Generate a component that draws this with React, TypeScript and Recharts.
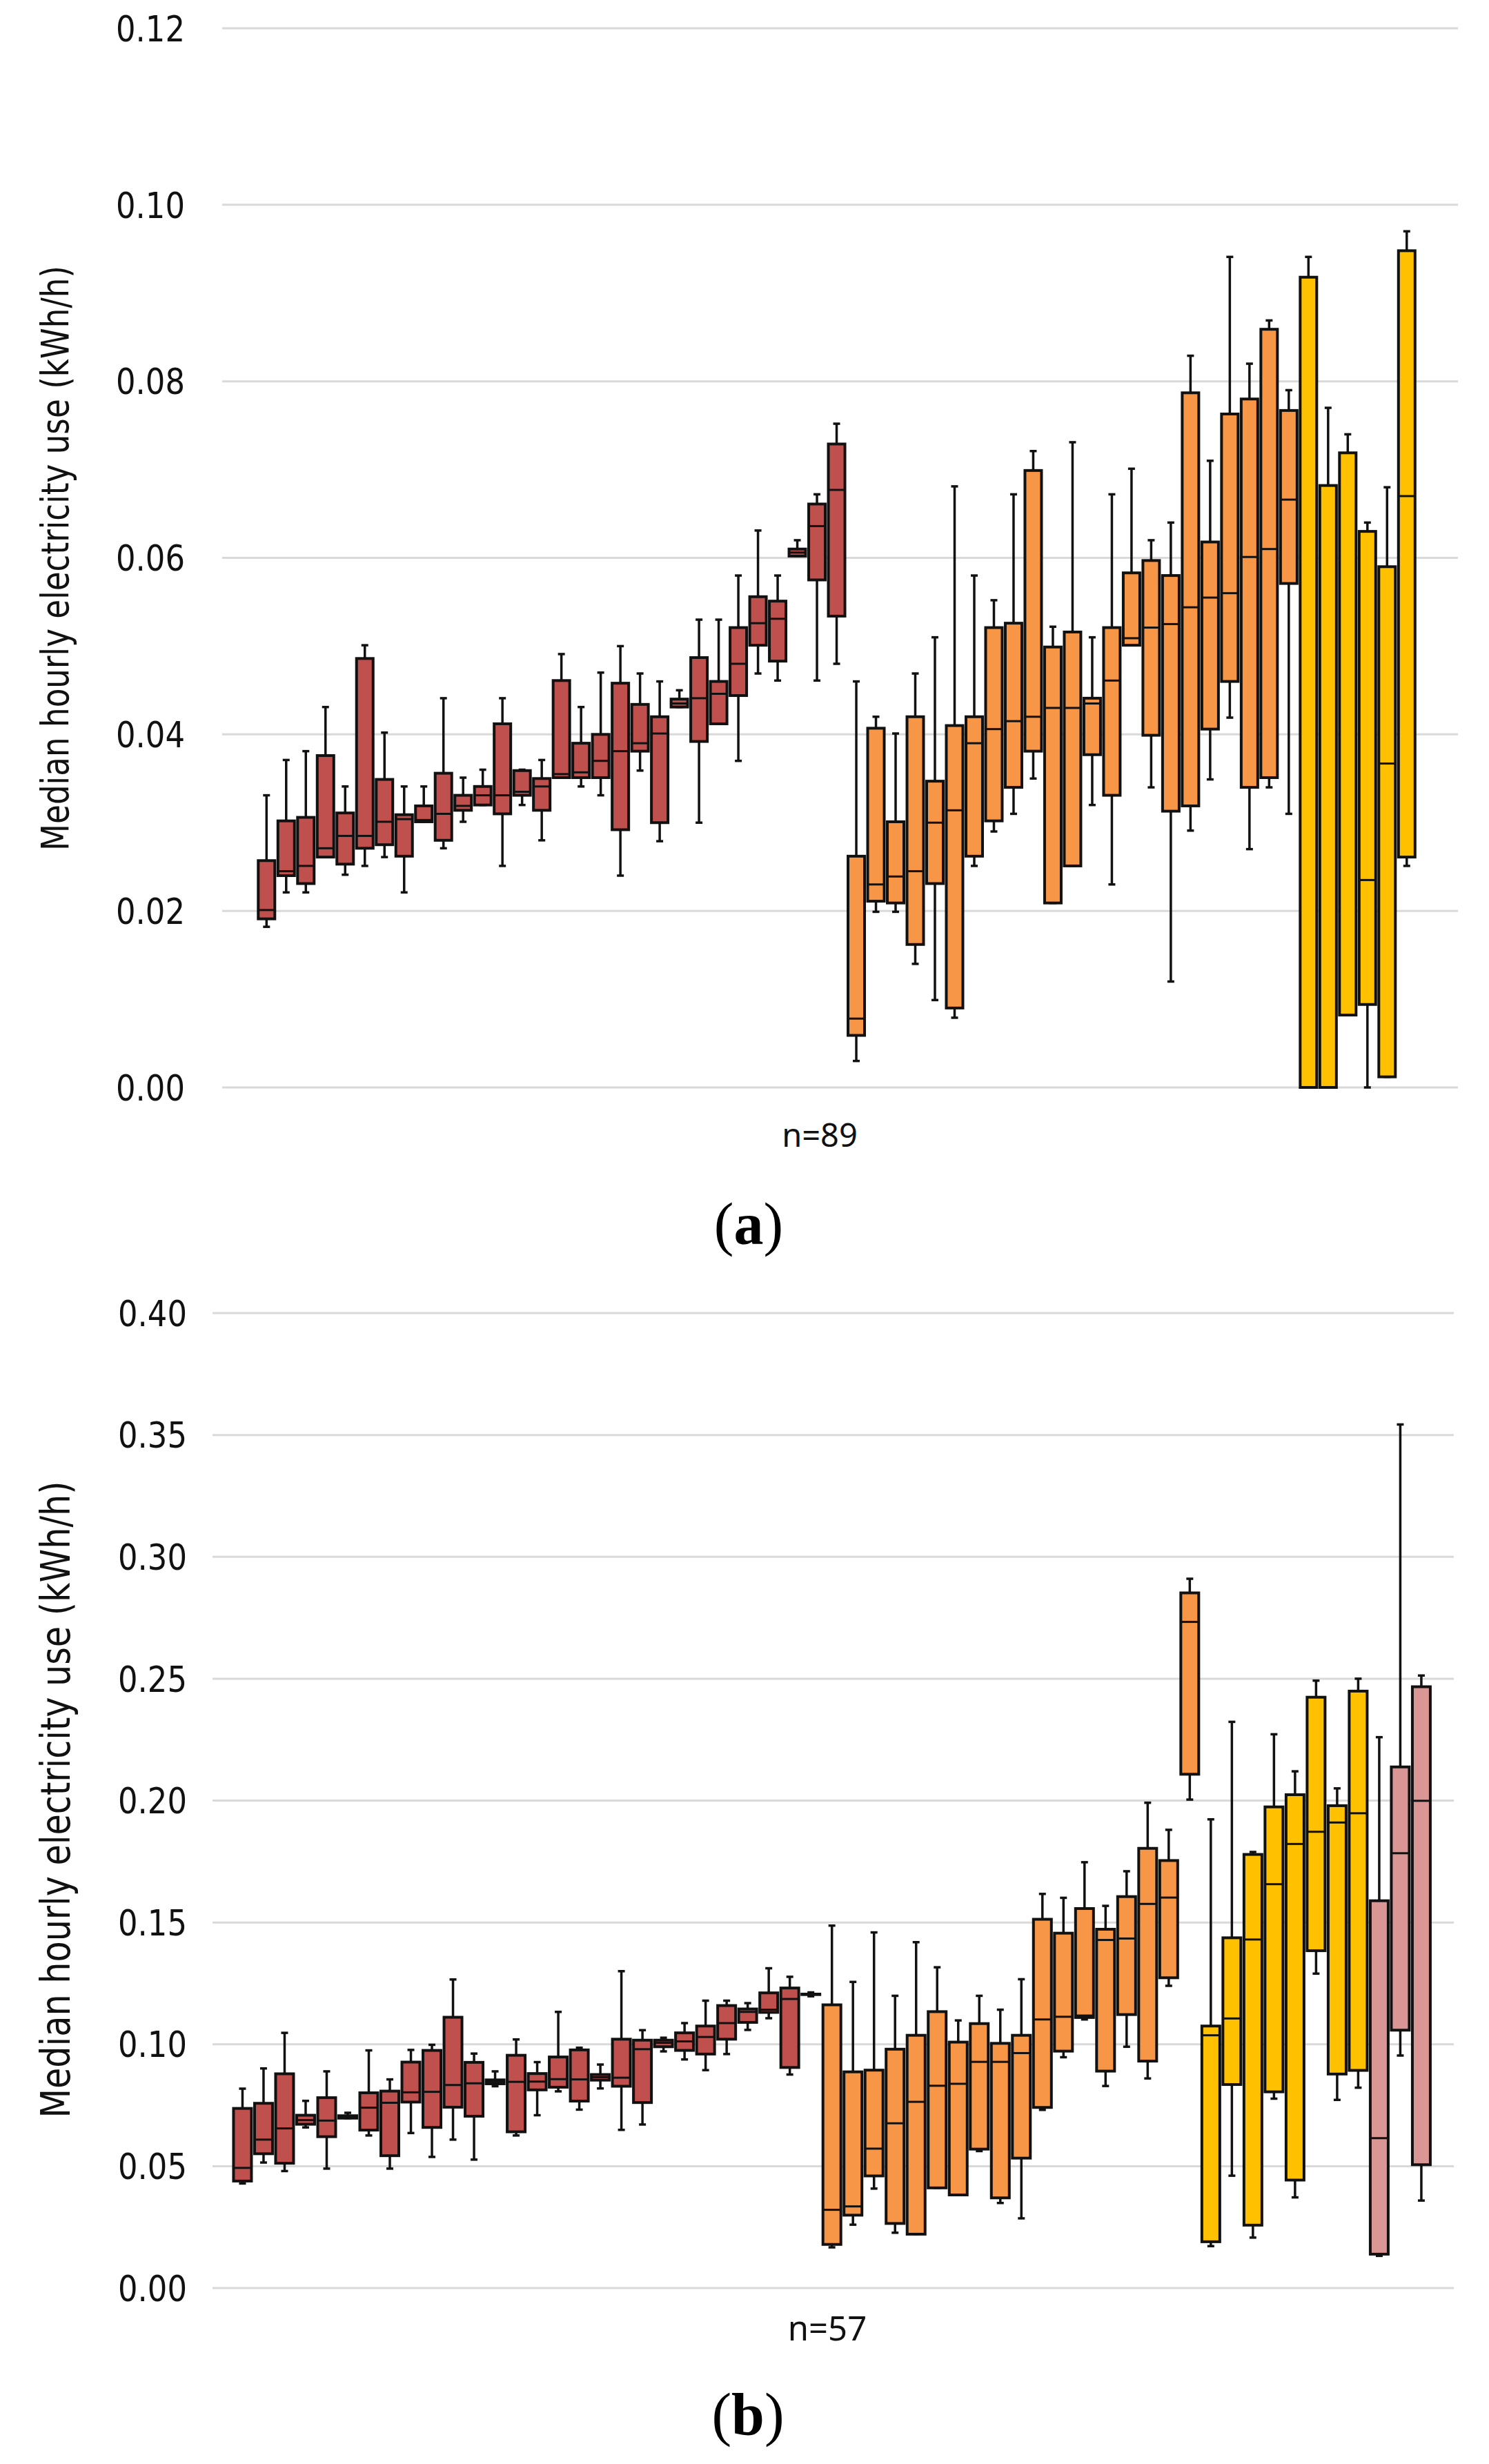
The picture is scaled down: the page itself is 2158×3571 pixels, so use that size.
import React from 'react';
import { BarChart, Bar, XAxis, YAxis, CartesianGrid } from 'recharts';

const GROUP_COLORS: Record<string, string> = {
  red: '#C0504D',
  orange: '#F79646',
  yellow: '#FFC000',
  pink: '#D99694',
};

// Panel (a), n=89 — whisker top, upper quartile, median, lower quartile, whisker bottom
const aMax = [0.0331, 0.0371, 0.0381, 0.0431, 0.0341, 0.0501, 0.0402, 0.0341, 0.0341, 0.0441,
  0.0351, 0.0360, 0.0441, 0.0360, 0.0371, 0.0491, 0.0431, 0.0470, 0.0500, 0.0469,
  0.0460, 0.0450, 0.0530, 0.0530, 0.0580, 0.0631, 0.0580, 0.0620, 0.0672, 0.0752,
  0.0460, 0.0420, 0.0401, 0.0469, 0.0510, 0.0681, 0.0580, 0.0552, 0.0672, 0.0721,
  0.0522, 0.0731, 0.0510, 0.0672, 0.0701, 0.0620, 0.0640, 0.0829, 0.0710, 0.0941,
  0.0820, 0.0869, 0.0790, 0.0941, 0.0770, 0.0740, 0.0640, 0.0680, 0.0970];
const aQ3 = [0.0257, 0.0302, 0.0306, 0.0376, 0.0311, 0.0486, 0.0349, 0.0309, 0.0319, 0.0356,
  0.0331, 0.0341, 0.0412, 0.0359, 0.0350, 0.0461, 0.0390, 0.0400, 0.0458, 0.0434,
  0.0420, 0.0440, 0.0487, 0.0460, 0.0521, 0.0556, 0.0551, 0.0610, 0.0661, 0.0729,
  0.0262, 0.0407, 0.0301, 0.0420, 0.0347, 0.0410, 0.0420, 0.0521, 0.0526, 0.0699,
  0.0499, 0.0516, 0.0441, 0.0521, 0.0583, 0.0597, 0.0580, 0.0787, 0.0618, 0.0763,
  0.0780, 0.0859, 0.0767, 0.0918, 0.0682, 0.0719, 0.0630, 0.0590, 0.0948];
const aMed = [0.0201, 0.0245, 0.0251, 0.0271, 0.0285, 0.0285, 0.0301, 0.0304, 0.0303, 0.0310,
  0.0319, 0.0331, 0.0331, 0.0335, 0.0341, 0.0355, 0.0357, 0.0370, 0.0381, 0.0390,
  0.0401, 0.0435, 0.0441, 0.0446, 0.0480, 0.0526, 0.0531, 0.0606, 0.0636, 0.0677,
  0.0078, 0.0230, 0.0239, 0.0245, 0.0300, 0.0314, 0.0390, 0.0406, 0.0415, 0.0420,
  0.0430, 0.0430, 0.0435, 0.0461, 0.0509, 0.0521, 0.0525, 0.0544, 0.0555, 0.0560,
  0.0601, 0.0610, 0.0666, 0.0000, 0.0000, 0.0082, 0.0235, 0.0367, 0.0670];
const aQ1 = [0.0191, 0.0240, 0.0231, 0.0261, 0.0253, 0.0271, 0.0275, 0.0262, 0.0301, 0.0280,
  0.0314, 0.0320, 0.0310, 0.0331, 0.0314, 0.0351, 0.0351, 0.0351, 0.0292, 0.0381,
  0.0300, 0.0431, 0.0392, 0.0412, 0.0444, 0.0501, 0.0483, 0.0602, 0.0575, 0.0534,
  0.0059, 0.0211, 0.0209, 0.0162, 0.0231, 0.0090, 0.0262, 0.0302, 0.0340, 0.0381,
  0.0209, 0.0251, 0.0377, 0.0331, 0.0501, 0.0399, 0.0313, 0.0319, 0.0406, 0.0460,
  0.0340, 0.0351, 0.0571, 0.0000, 0.0000, 0.0082, 0.0094, 0.0012, 0.0261];
const aMin = [0.0182, 0.0221, 0.0221, 0.0261, 0.0241, 0.0251, 0.0261, 0.0221, 0.0301, 0.0271,
  0.0301, 0.0320, 0.0251, 0.0320, 0.0280, 0.0351, 0.0341, 0.0331, 0.0240, 0.0359,
  0.0279, 0.0431, 0.0300, 0.0412, 0.0370, 0.0469, 0.0461, 0.0602, 0.0461, 0.0480,
  0.0030, 0.0199, 0.0199, 0.0140, 0.0099, 0.0079, 0.0251, 0.0290, 0.0310, 0.0350,
  0.0209, 0.0251, 0.0320, 0.0230, 0.0501, 0.0340, 0.0120, 0.0291, 0.0349, 0.0419,
  0.0270, 0.0340, 0.0310, 0.0000, 0.0000, 0.0082, 0.0000, 0.0012, 0.0251];
const aGroups: [string, number][] = [['red', 30], ['orange', 23], ['yellow', 6]];
const aTicks = [0, 0.02, 0.04, 0.06, 0.08, 0.1, 0.12];

// Panel (b), n=57
const bMax = [0.0818, 0.0901, 0.1047, 0.0768, 0.0889, 0.0719, 0.0975, 0.0856, 0.0977, 0.0998,
  0.1266, 0.0962, 0.0889, 0.1020, 0.0927, 0.1133, 0.0986, 0.0917, 0.1300, 0.1058,
  0.1027, 0.1087, 0.1179, 0.1179, 0.1169, 0.1312, 0.1277, 0.1213,
  0.1487, 0.1256, 0.1459, 0.1199, 0.1419, 0.1316, 0.1098, 0.1199, 0.1142, 0.1267,
  0.1617, 0.1601, 0.1747, 0.1568, 0.1710, 0.1991, 0.1880, 0.2910,
  0.1923, 0.2323, 0.1789, 0.2272, 0.2120, 0.2492, 0.2050, 0.2500,
  0.2260, 0.3543, 0.2513];
const bQ3 = [0.0737, 0.0758, 0.0879, 0.0709, 0.0781, 0.0707, 0.0801, 0.0808, 0.0927, 0.0975,
  0.1111, 0.0926, 0.0854, 0.0955, 0.0880, 0.0948, 0.0977, 0.0876, 0.1021, 0.1017,
  0.1017, 0.1047, 0.1075, 0.1159, 0.1145, 0.1211, 0.1231, 0.1206,
  0.1162, 0.0887, 0.0894, 0.0980, 0.1037, 0.1134, 0.1009, 0.1085, 0.1004, 0.1037,
  0.1513, 0.1456, 0.1557, 0.1472, 0.1606, 0.1804, 0.1754, 0.2852,
  0.1075, 0.1437, 0.1779, 0.1974, 0.2024, 0.2424, 0.1979, 0.2449,
  0.1589, 0.2138, 0.2467];
const bMed = [0.0493, 0.0609, 0.0655, 0.0689, 0.0687, 0.0703, 0.0740, 0.0760, 0.0803, 0.0805,
  0.0833, 0.0840, 0.0848, 0.0846, 0.0847, 0.0857, 0.0856, 0.0865, 0.0863, 0.0980,
  0.1006, 0.1012, 0.1030, 0.1087, 0.1133, 0.1142, 0.1186, 0.1205,
  0.0321, 0.0335, 0.0572, 0.0676, 0.0764, 0.0830, 0.0838, 0.0928, 0.0928, 0.0964,
  0.1102, 0.1113, 0.1118, 0.1428, 0.1434, 0.1576, 0.1602, 0.2733,
  0.1037, 0.1106, 0.1430, 0.1657, 0.1822, 0.1872, 0.1910, 0.1948,
  0.0615, 0.1784, 0.1999];
const bQ1 = [0.0439, 0.0551, 0.0512, 0.0672, 0.0621, 0.0697, 0.0648, 0.0543, 0.0763, 0.0659,
  0.0742, 0.0705, 0.0838, 0.0641, 0.0813, 0.0824, 0.0767, 0.0853, 0.0828, 0.0761,
  0.0990, 0.0975, 0.0960, 0.1021, 0.1090, 0.1131, 0.0905, 0.1204,
  0.0179, 0.0299, 0.0460, 0.0265, 0.0221, 0.0411, 0.0382, 0.0570, 0.0370, 0.0533,
  0.0741, 0.0972, 0.1110, 0.0890, 0.1122, 0.0931, 0.1273, 0.2108,
  0.0190, 0.0835, 0.0258, 0.0805, 0.0443, 0.1384, 0.0878, 0.0893,
  0.0139, 0.1058, 0.0506];
const bMin = [0.0429, 0.0515, 0.0480, 0.0659, 0.0490, 0.0697, 0.0626, 0.0490, 0.0636, 0.0538,
  0.0609, 0.0527, 0.0828, 0.0626, 0.0709, 0.0807, 0.0732, 0.0819, 0.0649, 0.0671,
  0.0971, 0.0938, 0.0894, 0.0960, 0.1059, 0.1107, 0.0876, 0.1197,
  0.0167, 0.0260, 0.0408, 0.0227, 0.0221, 0.0411, 0.0382, 0.0562, 0.0349, 0.0286,
  0.0731, 0.0947, 0.1102, 0.0829, 0.0990, 0.0860, 0.1240, 0.2004,
  0.0172, 0.0461, 0.0207, 0.0777, 0.0372, 0.1290, 0.0772, 0.0822,
  0.0132, 0.0954, 0.0359];
const bGroups: [string, number][] = [['red', 28], ['orange', 18], ['yellow', 8], ['pink', 3]];
const bTicks = [0, 0.05, 0.1, 0.15, 0.2, 0.25, 0.3, 0.35, 0.4];

const buildRows = (
  max: number[], q3: number[], med: number[], q1: number[], min: number[],
  groups: [string, number][],
) => {
  const colors = groups.flatMap(([g, n]) => Array(n).fill(GROUP_COLORS[g]));
  return max.map((v, i) => ({
    id: `h${i + 1}`,
    max: v,
    q3: q3[i],
    med: med[i],
    q1: q1[i],
    min: min[i],
    color: colors[i],
  }));
};

const aRows = buildRows(aMax, aQ3, aMed, aQ1, aMin, aGroups);
const bRows = buildRows(bMax, bQ3, bMed, bQ1, bMin, bGroups);

const INK = '#111';

// the bar runs from 0 to max, so its own geometry gives the y scale for the other values
const BoxShape = (props: any) => {
  const { x, y, width, height, payload } = props;
  if (!payload || !payload.max || !height) return null;
  const base = y + height;
  const k = height / payload.max;
  const py = (v: number) => base - v * k;
  const cx = x + width / 2;
  const cap = 5;
  const top = py(payload.q3);
  const bottom = py(payload.q1);
  return (
    <g>
      <line x1={cx} x2={cx} y1={py(payload.max)} y2={py(payload.min)} stroke={INK} strokeWidth={3.5} />
      <line x1={cx - cap} x2={cx + cap} y1={py(payload.max)} y2={py(payload.max)} stroke={INK} strokeWidth={3.5} />
      <line x1={cx - cap} x2={cx + cap} y1={py(payload.min)} y2={py(payload.min)} stroke={INK} strokeWidth={3.5} />
      <rect x={x} y={top} width={width} height={Math.max(bottom - top, 0)} fill={payload.color} stroke={INK} strokeWidth={4} />
      <line x1={x} x2={x + width} y1={py(payload.med)} y2={py(payload.med)} stroke={INK} strokeWidth={3} />
    </g>
  );
};

const Tick = (props: any) => {
  const { x, y, payload } = props;
  return (
    <text
      x={x}
      y={y}
      dy="0.36em"
      textAnchor="end"
      fontFamily="'DejaVu Sans', sans-serif"
      fontSize={52}
      textLength={100}
      lengthAdjust="spacingAndGlyphs"
      fill={INK}
    >
      {Number(payload.value).toFixed(2)}
    </text>
  );
};

const BoxPanel = ({ rows, ticks, max, margin, axisWidth, tickGap, pad }: any) => (
  <BarChart width={2158} height={1700} data={rows} margin={margin} barCategoryGap="8%" barGap={0}>
    <CartesianGrid vertical={false} stroke="#D9D9D9" strokeWidth={3} />
    <XAxis dataKey="id" hide height={0} padding={pad} />
    <YAxis
      type="number"
      domain={[0, max]}
      ticks={ticks}
      width={axisWidth}
      axisLine={false}
      tickLine={false}
      tickSize={0}
      tickMargin={tickGap}
      tick={<Tick />}
      interval={0}
    />
    <Bar dataKey="max" isAnimationActive={false} shape={<BoxShape />} />
  </BarChart>
);

const LABEL_FONT = "'Liberation Sans Narrow', 'DejaVu Sans Condensed', 'Liberation Sans', sans-serif";
const Y_TITLE = 'Median hourly electricity use (kWh/h)';

export default function App() {
  return (
    <div style={{ position: 'absolute', left: 0, top: 0, width: 2158, height: 3571, background: '#fff' }}>
      <div style={{ position: 'absolute', left: 0, top: 0 }}>
        <BoxPanel
          rows={aRows}
          ticks={aTicks}
          max={0.12}
          margin={{ top: 41, right: 45, bottom: 124, left: 0 }}
          axisWidth={322}
          tickGap={54}
          pad={{ left: 50, right: 60 }}
        />
      </div>
      <div style={{ position: 'absolute', left: 0, top: 1750 }}>
        <BoxPanel
          rows={bRows}
          ticks={bTicks}
          max={0.4}
          margin={{ top: 153, right: 51, bottom: 134, left: 0 }}
          axisWidth={308}
          tickGap={37}
          pad={{ left: 28, right: 32 }}
        />
      </div>
      <svg
        width={2158}
        height={3571}
        style={{ position: 'absolute', left: 0, top: 0, pointerEvents: 'none' }}
      >
        <text
          transform="translate(80, 809) rotate(-90)"
          textAnchor="middle"
          dominantBaseline="central"
          fontFamily={LABEL_FONT}
          fontSize={55}
          textLength={848}
          lengthAdjust="spacingAndGlyphs"
          fill={INK}
        >
          {Y_TITLE}
        </text>
        <text
          transform="translate(81, 2608) rotate(-90)"
          textAnchor="middle"
          dominantBaseline="central"
          fontFamily={LABEL_FONT}
          fontSize={58}
          textLength={923}
          lengthAdjust="spacingAndGlyphs"
          fill={INK}
        >
          {Y_TITLE}
        </text>
        <text x={1188} y={1662} textAnchor="middle" fontFamily="'Noto Sans', sans-serif" fontSize={47} fill={INK}>
          n=89
        </text>
        <text x={1199} y={3392} textAnchor="middle" fontFamily="'Noto Sans', sans-serif" fontSize={49} fill={INK}>
          n=57
        </text>
        <text x={1085} y={1803} textAnchor="middle" fontFamily="'Liberation Serif', serif" fontSize={86} fill="#000">
          (<tspan fontWeight="bold">a</tspan>)
        </text>
        <text x={1084} y={3528} textAnchor="middle" fontFamily="'Liberation Serif', serif" fontSize={86} fill="#000">
          (<tspan fontWeight="bold">b</tspan>)
        </text>
      </svg>
    </div>
  );
}
